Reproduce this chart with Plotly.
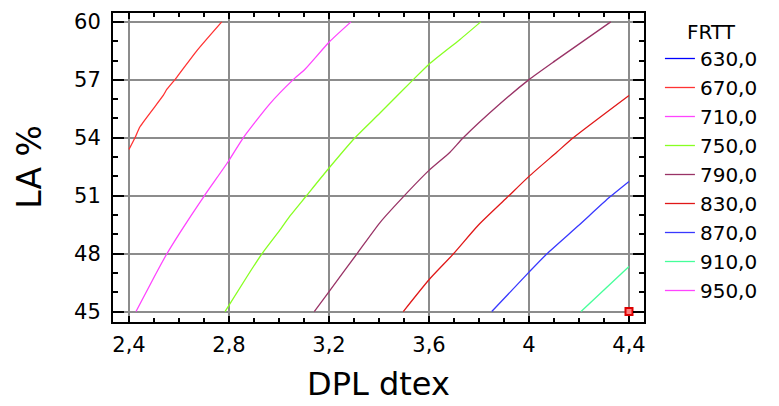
import plotly.graph_objects as go

# Contour levels (legend) and colours
levels = ["630,0", "670,0", "710,0", "750,0", "790,0", "830,0", "870,0", "910,0", "950,0"]
colors = ["#0000ff", "#ff3333", "#ff44ff", "#88ff22", "#993366", "#e01818", "#3838ff", "#44ff99", "#ff44ff"]

# Contour line points (DPL dtex, LA %)
x630 = [None]
y630 = [None]
x670 = [2.400, 2.424, 2.444, 2.537, 2.551, 2.591, 2.671, 2.771]
y670 = [53.40, 54.00, 54.57, 56.19, 56.50, 57.13, 58.50, 60.00]
x710 = [2.428, 2.497, 2.551, 2.604, 2.700, 2.797, 2.857, 2.964, 3.057, 3.104, 3.201, 3.288]
y710 = [45.00, 46.70, 47.98, 49.09, 50.97, 52.77, 54.00, 55.77, 57.01, 57.55, 58.96, 60.00]
x750 = [2.784, 2.871, 2.931, 3.004, 3.044, 3.108, 3.191, 3.304, 3.404, 3.537, 3.600, 3.724, 3.807]
y750 = [45.00, 46.79, 47.98, 49.23, 49.95, 50.97, 52.29, 54.00, 55.28, 57.01, 57.81, 59.09, 60.00]
x790 = [3.141, 3.201, 3.311, 3.404, 3.497, 3.600, 3.684, 3.737, 3.884, 4.000, 4.104, 4.327]
y790 = [45.00, 46.05, 47.98, 49.61, 50.94, 52.31, 53.25, 54.00, 55.76, 57.01, 57.98, 60.00]
x830 = [3.497, 3.600, 3.697, 3.797, 3.911, 4.000, 4.111, 4.177, 4.400]
y830 = [45.00, 46.65, 47.98, 49.47, 50.89, 52.00, 53.25, 54.00, 56.19]
x870 = [3.851, 4.000, 4.071, 4.197, 4.324, 4.400]
y870 = [45.00, 47.04, 47.98, 49.44, 50.94, 51.74]
x910 = [4.208, 4.400]
y910 = [45.00, 47.33]
x950 = [None]
y950 = [None]

# Marked point
pt_x = [4.4]
pt_y = [45.0]

# Ticks
xtick_vals = [2.4, 2.8, 3.2, 3.6, 4.0, 4.4]
xtick_text = ["2,4", "2,8", "3,2", "3,6", "4", "4,4"]
ytick_vals = [45, 48, 51, 54, 57, 60]
ytick_text = ["45", "48", "51", "54", "57", "60"]

xs = [x630, x670, x710, x750, x790, x830, x870, x910, x950]
ys = [y630, y670, y710, y750, y790, y830, y870, y910, y950]

FONT = "DejaVu Sans"

fig = go.Figure()
for name, col, xv, yv in zip(levels, colors, xs, ys):
    fig.add_trace(go.Scatter(x=xv, y=yv, mode="lines", name=name,
                             line=dict(color=col, width=1.3, shape="spline", smoothing=0.6)))

fig.add_trace(go.Scatter(x=pt_x, y=pt_y, mode="markers", showlegend=False,
                         marker=dict(symbol="square", size=7, color="#ff8080",
                                     line=dict(color="#dd0000", width=2))))

axis_common = dict(
    showline=True, linecolor="black", linewidth=2, mirror="allticks",
    ticks="inside", tickcolor="black", tickwidth=2,
    showgrid=True, gridcolor="#8c8c8c", gridwidth=1.5,
    zeroline=False, tickfont=dict(family=FONT, size=21, color="black"),
)

fig.update_xaxes(range=[2.336, 4.46], tickmode="array", tickvals=xtick_vals,
                 ticktext=xtick_text, ticklen=6, ticklabelstandoff=3,
                 minor=dict(dtick=0.1, tick0=2.4, ticks="inside", ticklen=4,
                            tickwidth=1.5, tickcolor="black", showgrid=False),
                 **axis_common)
fig.update_yaxes(range=[44.46, 60.46], tickmode="array", tickvals=ytick_vals,
                 ticktext=ytick_text, ticklen=11, ticklabelstandoff=6,
                 minor=dict(dtick=1, tick0=45, ticks="inside", ticklen=5,
                            tickwidth=1.5, tickcolor="black", showgrid=False),
                 **axis_common)

fig.add_annotation(text="DPL dtex", xref="paper", yref="paper", x=0.5, y=-0.2,
                   xanchor="center", yanchor="middle", showarrow=False,
                   font=dict(family=FONT, size=32, color="black"))
fig.add_annotation(text="LA %", xref="paper", yref="paper", x=-0.158, y=0.503,
                   xanchor="center", yanchor="middle", showarrow=False, textangle=-90,
                   font=dict(family=FONT, size=33, color="black"))

fig.update_layout(
    width=779, height=406,
    margin=dict(l=113, r=135, t=10, b=84),
    paper_bgcolor="white", plot_bgcolor="white",
    font=dict(family=FONT, color="black"),
    legend=dict(x=1.03, y=1.0, xanchor="left", yanchor="top",
                font=dict(family=FONT, size=20, color="black"),
                title=dict(text="FRTT", side="top center",
                           font=dict(family=FONT, size=20, color="black")),
                itemwidth=30, tracegroupgap=0, bgcolor="rgba(0,0,0,0)"),
)

fig.write_html("out.html")
